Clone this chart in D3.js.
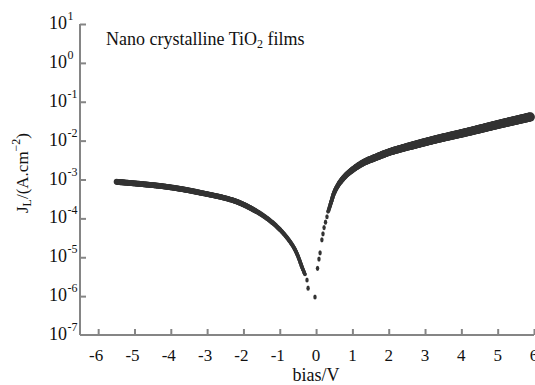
<!DOCTYPE html>
<html>
<head>
<meta charset="utf-8">
<script src="https://cdn.jsdelivr.net/npm/d3@7"></script>
<style>
  body { margin: 0; background: #fff; }
  text { font-family: "Liberation Serif", "Times New Roman", serif; fill: #111; }
</style>
</head>
<body>
<div id="chart"></div>
<script>
// reverse branch, solid band (bias V, current density A/cm2)
const leftBias = [-5.49, -4.11, -3.20, -2.10, -1.19, -0.63, -0.36, -0.30];
const leftJ = [8.7e-4, 6.5e-4, 4.6e-4, 2.5e-4, 7.6e-5, 1.9e-5, 4.8e-6, 3.5e-6];
// reverse branch, separate points close to zero
const leftDotBias = [-0.25, -0.22, -0.03];
const leftDotJ = [2.6e-6, 1.6e-6, 9.5e-7];
// forward branch, separate points close to zero
const rightDotBias = [0.04, 0.08, 0.11, 0.16, 0.19, 0.22, 0.26, 0.30];
const rightDotJ = [5.2e-6, 9e-6, 1.3e-5, 2.8e-5, 4e-5, 5.8e-5, 8e-5, 1.1e-4];
// forward branch, solid band
const rightBias = [0.33, 0.39, 0.52, 0.71, 0.94, 1.30, 1.67, 1.99, 2.30, 3.23, 4.17, 5.08, 5.90];
const rightJ = [1.47e-4, 2.2e-4, 5.1e-4, 9.8e-4, 1.6e-3, 2.7e-3, 3.8e-3, 5.0e-3, 6.1e-3, 1.04e-2, 1.67e-2, 2.7e-2, 4.07e-2];

const xTicks = [-6, -5, -4, -3, -2, -1, 0, 1, 2, 3, 4, 5, 6];
const yExps = [-7, -6, -5, -4, -3, -2, -1, 0, 1];

const width = 535, height = 385;
const svg = d3.select('#chart').append('svg')
    .attr('width', width)
    .attr('height', height);

svg.append('defs').append('filter')
    .attr('id', 'soft')
    .append('feGaussianBlur')
    .attr('stdDeviation', 0.6);

const x = d3.scaleLinear().domain([-6.5, 6]).range([80, 534]);
const y = d3.scaleLog().domain([1e-7, 10]).range([335, 24]);

const axisColor = '#858585';

// axes drawn with inward ticks
const xAxis = svg.append('g')
    .attr('transform', 'translate(0,' + y(1e-7) + ')')
    .call(d3.axisTop(x).tickValues(xTicks).tickSize(6).tickFormat(''));
const yAxis = svg.append('g')
    .attr('transform', 'translate(' + x(-6.5) + ',0)')
    .call(d3.axisRight(y).tickValues(yExps.slice(1).map(e => Math.pow(10, e))).tickSize(6).tickFormat(''));

[xAxis, yAxis].forEach(a => {
    a.select('.domain').attr('stroke', axisColor).attr('stroke-width', 2);
    a.selectAll('.tick line').attr('stroke', axisColor).attr('stroke-width', 2);
});
yAxis.select('.domain').attr('d', 'M0,' + y(1e-7) + 'V' + y(10));
xAxis.select('.domain').attr('d', 'M' + x(-6.5) + ',0H' + x(6));

// x tick labels
svg.append('g').selectAll('text')
    .data(xTicks)
    .enter()
    .append('text')
    .attr('x', d => x(d) - (d < 0 ? 2 : 0))
    .attr('y', 361)
    .attr('text-anchor', 'middle')
    .attr('font-size', 17)
    .text(d => d);

// y tick labels: 10 with superscript exponent
svg.append('g').selectAll('text')
    .data(yExps)
    .enter()
    .append('text')
    .attr('x', 67)
    .attr('y', d => y(Math.pow(10, d)) + 5)
    .attr('text-anchor', 'end')
    .attr('font-size', 18)
    .text('10');
svg.append('g').selectAll('text')
    .data(yExps)
    .enter()
    .append('text')
    .attr('x', 67.5)
    .attr('y', d => y(Math.pow(10, d)) - 4)
    .attr('font-size', 12)
    .text(d => d);

// axis titles
svg.append('text')
    .attr('x', x(0))
    .attr('y', 381)
    .attr('text-anchor', 'middle')
    .attr('font-size', 18)
    .text('bias/V');

const yTitle = svg.append('text')
    .attr('transform', 'translate(28,173) rotate(-90)')
    .attr('text-anchor', 'middle')
    .attr('font-size', 17);
yTitle.append('tspan').text('J');
yTitle.append('tspan').attr('font-size', 12).attr('dy', 3).text('L');
yTitle.append('tspan').attr('dy', -3).text('/(A.cm');
yTitle.append('tspan').attr('font-size', 12).attr('dy', -8).text('−2');
yTitle.append('tspan').attr('dy', 8).text(')');

// annotation
const note = svg.append('text')
    .attr('x', 106)
    .attr('y', 45)
    .attr('font-size', 18);
note.append('tspan').text('Nano crystalline TiO');
note.append('tspan').attr('font-size', 12).attr('dy', 3).text('2');
note.append('tspan').attr('dy', -3).text(' films');

// data
const bandColor = '#333';
const line = d3.line()
    .x(d => x(d[0]))
    .y(d => y(d[1]))
    .curve(d3.curveCatmullRom.alpha(0.5));

const plot = svg.append('g').attr('filter', 'url(#soft)');

// dense point cloud: follow each fitted path and stamp markers, thickening with bias
function band(bias, J, radius) {
    const guide = plot.append('path')
        .datum(d3.zip(bias, J))
        .attr('d', line)
        .attr('fill', 'none')
        .attr('stroke', 'none');
    const node = guide.node();
    const len = node.getTotalLength();
    const pts = d3.range(0, len, 0.75).map(l => node.getPointAtLength(l));
    plot.append('g').selectAll('circle')
        .data(pts)
        .enter()
        .append('circle')
        .attr('cx', p => p.x)
        .attr('cy', p => p.y)
        .attr('r', p => radius(x.invert(p.x)))
        .attr('fill', bandColor);
}

band(leftBias, leftJ, d3.scaleLinear().domain([-5.5, -2, -0.3]).range([3, 2.7, 1.8]).clamp(true));
band(rightBias, rightJ, d3.scaleLinear().domain([0.33, 0.7, 1.5, 3, 6]).range([1.8, 2.6, 3.5, 4, 4.6]).clamp(true));

plot.append('g').selectAll('ellipse')
    .data(d3.zip(leftDotBias.concat(rightDotBias), leftDotJ.concat(rightDotJ)))
    .enter()
    .append('ellipse')
    .attr('cx', d => x(d[0]))
    .attr('cy', d => y(d[1]))
    .attr('rx', 1.7)
    .attr('ry', 2.6)
    .attr('fill', bandColor);
</script>
</body>
</html>
